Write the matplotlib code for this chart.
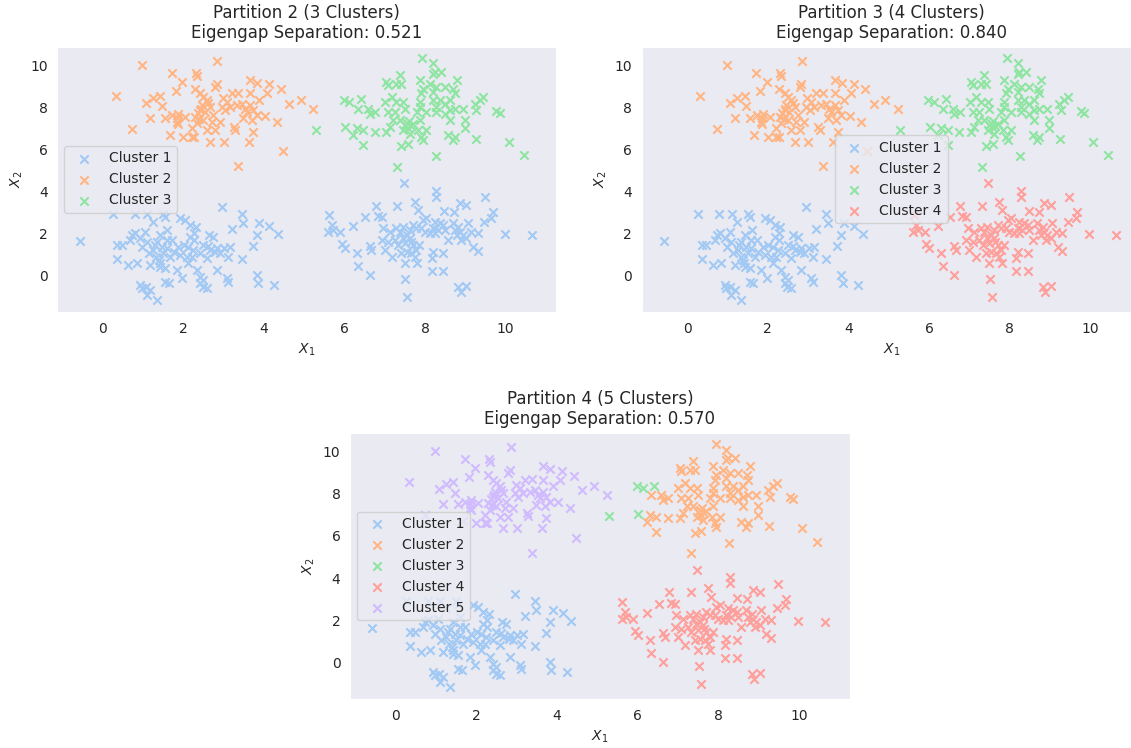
import numpy as np
import matplotlib.pyplot as plt
import seaborn as sns

# point groups (same points in every panel)
bl_x = [-0.57, 0.27, 0.80, 1.11, 1.51, 1.55, 1.92, 2.05, 2.17, 0.73, 0.81, 0.93, 1.06, 0.69,
        0.36, 0.48, 0.36, 0.64, 0.85, 1.10, 1.34, 1.26, 1.14, 1.39, 1.18, 1.43, 1.51, 1.59,
        1.47, 1.68, 1.76, 1.88, 1.93, 2.01, 2.13, 2.21, 2.25, 2.42, 2.58, 2.50, 2.63, 1.59,
        1.43, 1.84, 1.97, 2.34, 2.42, 2.50, 0.93, 0.97, 1.18, 1.34, 1.10, 2.96, 3.45, 3.49,
        3.20, 3.89, 4.14, 4.36, 3.82, 3.72, 3.16, 3.45, 2.75, 2.67, 2.83, 2.91, 3.12, 2.83,
        3.08, 3.12, 3.82, 3.86, 4.25, 2.42, 2.58, 1.24, 1.60, 1.29, 1.33, 1.42, 1.56, 1.56,
        1.64, 1.73, 2.09, 2.13, 2.31, 2.18, 2.27, 2.27, 2.49, 2.62, 2.80, 3.02, 0.98, 1.07]
bl_y = [1.65, 2.92, 2.92, 2.92, 2.92, 2.79, 2.71, 2.63, 2.40, 1.92, 2.00, 1.76, 2.08, 1.68,
        1.44, 1.44, 0.76, 0.49, 0.60, 1.60, 1.60, 1.21, 1.05, 0.73, 0.49, 0.41, 1.05, 1.29,
        1.37, 0.89, 1.13, 1.37, 0.97, 1.44, 1.37, 0.89, 1.21, 1.05, 0.81, 1.44, 1.92, 1.68,
        1.92, 0.25, -0.14, 0.25, -0.06, -0.22, -0.46, -0.62, -0.70, -1.17, -0.94, 3.24, 2.92, 2.48,
        2.19, 2.51, 2.35, 1.97, 1.92, 1.40, 1.33, 0.76, 1.84, 1.21, 1.29, 1.05, 0.89, 0.25,
        -0.14, -0.30, 0.02, -0.38, -0.46, -0.38, -0.62, 2.56, 2.16, 1.44, 0.89, 0.57, 0.33, -0.30,
        -0.38, 1.68, 0.89, 0.57, 2.32, 1.84, 2.00, 1.68, -0.54, 1.40, 1.13, 1.29, 1.37, -0.54]

tl_x = [0.33, 0.98, 0.74, 1.07, 1.24, 1.43, 1.47, 1.18, 1.71, 1.97, 1.82, 1.56, 1.67, 1.85,
        1.87, 2.05, 2.00, 2.27, 2.31, 2.34, 2.28, 2.85, 2.83, 2.79, 3.66, 3.84, 4.13, 4.42,
        3.37, 3.20, 3.66, 4.07, 3.89, 4.63, 4.92, 5.23, 2.50, 2.58, 2.46, 2.67, 2.54, 2.75,
        2.98, 3.08, 2.96, 3.04, 3.16, 3.33, 3.45, 3.53, 3.66, 3.58, 3.74, 3.82, 3.49, 3.70,
        4.03, 4.32, 2.71, 2.91, 2.79, 3.25, 3.29, 3.74, 3.62, 2.67, 3.00, 4.47, 3.37, 2.42,
        2.42, 2.30, 2.50, 2.34, 2.21, 2.58, 2.21, 1.88, 1.73, 1.84, 2.36, 2.44, 2.62, 2.40]
tl_y = [8.57, 10.05, 6.98, 8.22, 8.46, 8.56, 8.06, 7.51, 9.65, 9.22, 8.79, 7.52, 6.70, 7.52,
        7.21, 7.56, 6.60, 6.60, 9.65, 9.49, 8.90, 10.22, 9.14, 8.98, 9.30, 9.17, 9.10, 8.86,
        8.70, 8.67, 8.67, 8.67, 8.35, 8.16, 8.38, 7.95, 8.51, 8.35, 8.11, 8.03, 7.79, 7.63,
        8.43, 8.27, 8.03, 7.87, 8.03, 8.11, 8.19, 7.95, 8.11, 7.79, 7.87, 7.63, 7.48, 7.40,
        7.59, 7.32, 7.32, 7.32, 6.92, 7.08, 6.95, 6.84, 6.36, 6.36, 6.36, 5.92, 5.21, 8.67,
        7.87, 7.56, 7.40, 7.24, 7.00, 6.92, 6.60, 7.71, 7.63, 7.32, 7.75, 7.95, 8.20, 7.45]

tr_x = [7.93, 8.20, 7.37, 8.20, 7.04, 7.08, 7.29, 7.41, 7.87, 7.95, 8.12, 8.20, 7.91, 6.34,
        6.59, 6.63, 6.76, 7.01, 7.17, 7.29, 7.08, 7.25, 7.46, 7.50, 7.87, 7.87, 8.03, 8.20,
        8.28, 6.22, 6.30, 6.46, 6.75, 6.46, 7.04, 7.12, 7.21, 7.37, 7.50, 7.58, 7.46, 7.62,
        7.41, 7.58, 7.83, 7.91, 8.03, 7.95, 7.87, 7.79, 8.26, 7.31, 8.24, 8.40, 8.28, 8.49,
        8.78, 8.70, 8.73, 8.36, 8.49, 8.61, 8.28, 8.49, 8.61, 8.73, 8.94, 9.23, 9.35, 9.44,
        9.27, 9.77, 9.85, 8.61, 8.98, 8.98, 8.57, 8.69, 8.73, 9.26, 10.08, 10.45, 7.55, 7.65,
        7.60, 7.70]
tr_y = [10.38, 10.10, 9.54, 9.62, 9.22, 9.06, 9.14, 9.14, 9.30, 8.90, 9.14, 8.74, 8.67, 7.95,
        7.95, 7.71, 7.79, 8.27, 8.51, 8.27, 7.79, 7.79, 8.27, 7.95, 8.27, 8.03, 7.79, 8.35,
        8.03, 6.68, 7.00, 6.92, 6.84, 6.21, 6.84, 7.08, 7.40, 7.40, 7.16, 7.00, 6.92, 6.76,
        6.16, 6.25, 6.92, 6.60, 6.92, 6.44, 7.40, 7.79, 5.69, 5.17, 9.70, 9.70, 8.98, 8.98,
        9.33, 8.90, 8.67, 8.35, 8.19, 8.35, 7.79, 7.71, 7.87, 7.95, 7.95, 8.19, 8.35, 8.51,
        7.87, 7.84, 7.75, 7.40, 7.40, 7.00, 6.68, 6.44, 6.60, 6.49, 6.37, 5.73, 7.25, 7.10,
        7.35, 7.20]

# the few top-right points that split off in partition 4
tre_x = [5.29, 5.98, 6.12, 6.41, 6.02]
tre_y = [6.94, 8.38, 8.27, 8.39, 7.06]

br_x = [7.47, 5.62, 6.78, 7.31, 7.74, 7.82, 6.52, 6.83, 6.92, 6.22, 5.68, 5.72, 5.60, 5.89,
        5.93, 6.01, 6.30, 6.63, 6.67, 6.34, 6.63, 6.96, 7.12, 7.29, 7.37, 7.45, 7.62, 7.70,
        7.78, 7.95, 7.91, 7.99, 6.92, 7.08, 7.25, 7.33, 7.49, 7.62, 7.70, 7.78, 7.86, 7.66,
        7.74, 7.54, 7.41, 7.17, 7.00, 7.49, 7.51, 7.56, 8.28, 8.28, 9.48, 8.86, 9.02, 8.47,
        8.72, 9.68, 9.64, 9.46, 8.03, 8.24, 8.36, 8.45, 8.20, 8.32, 8.49, 8.12, 8.24, 8.69,
        8.82, 8.74, 8.86, 8.78, 8.94, 9.06, 9.15, 9.02, 8.90, 8.57, 9.98, 10.64, 9.19, 9.30,
        8.20, 8.16, 8.45, 8.16, 8.45, 8.82, 9.02, 8.88, 7.80, 9.30, 7.55, 7.65, 7.45]
br_y = [4.38, 2.87, 3.32, 3.32, 3.51, 3.11, 2.79, 2.82, 2.79, 2.35, 2.40, 2.16, 2.08, 2.08,
        1.49, 1.29, 1.08, 1.40, 1.21, 0.44, 0.00, 2.24, 2.08, 2.24, 2.08, 2.32, 2.16, 2.40,
        2.24, 2.63, 2.24, 2.08, 1.68, 1.60, 1.68, 1.44, 1.52, 1.76, 1.44, 1.21, 1.44, 1.05,
        0.89, 1.13, 1.05, 0.85, 1.21, 0.57, -0.19, -1.02, 4.03, 3.75, 3.71, 3.43, 3.35, 3.08,
        3.03, 3.03, 2.71, 2.56, 2.71, 2.56, 2.48, 2.40, 2.24, 2.16, 2.16, 2.00, 2.00, 2.48,
        2.32, 2.16, 2.08, 1.92, 1.92, 2.48, 2.08, 1.76, 1.68, 1.68, 1.97, 1.90, 1.33, 1.16,
        1.13, 0.81, 1.05, 0.22, 0.22, -0.54, -0.49, -0.78, 0.60, 2.00, 1.90, 1.60, 1.80]

groups = {
    "bl": (bl_x, bl_y),
    "tl": (tl_x, tl_y),
    "tr": (tr_x, tr_y),
    "tre": (tre_x, tre_y),
    "br": (br_x, br_y),
}

# which groups make up each cluster, per partition
p2_clusters = [["bl", "br"], ["tl"], ["tr", "tre"]]
p3_clusters = [["bl"], ["tl"], ["tr", "tre"], ["br"]]
p4_clusters = [["bl"], ["tr"], ["tre"], ["br"], ["tl"]]

titles = ["Partition 2 (3 Clusters)", "Partition 3 (4 Clusters)", "Partition 4 (5 Clusters)"]
eigengaps = [0.521, 0.840, 0.570]
legend_locs = ["center left", "center", "center left"]

sns.set_style("dark")
colors = sns.color_palette("pastel")

fig = plt.figure(figsize=(11.31, 7.48), dpi=100)
axes = [
    fig.add_axes([0.0508, 0.5829, 0.4409, 0.3547]),
    fig.add_axes([0.5676, 0.5829, 0.4409, 0.3547]),
    fig.add_axes([0.3097, 0.0651, 0.4415, 0.3564]),
]

for ax, clusters, title, gap, loc in zip(axes, [p2_clusters, p3_clusters, p4_clusters],
                                         titles, eigengaps, legend_locs):
    for k, members in enumerate(clusters):
        xs = np.concatenate([groups[g][0] for g in members])
        ys = np.concatenate([groups[g][1] for g in members])
        ax.scatter(xs, ys, marker="x", color=colors[k], label="Cluster %d" % (k + 1))
    ax.set_xlim(-1.12, 11.25)
    ax.set_ylim(-1.75, 10.9)
    ax.set_xticks(range(0, 11, 2))
    ax.set_yticks(range(0, 11, 2))
    ax.set_xlabel("$X_1$")
    ax.set_ylabel("$X_2$")
    ax.set_title(title + "\nEigengap Separation: %.3f" % gap)
    ax.legend(loc=loc)

fig.savefig("out.png", dpi=100)
